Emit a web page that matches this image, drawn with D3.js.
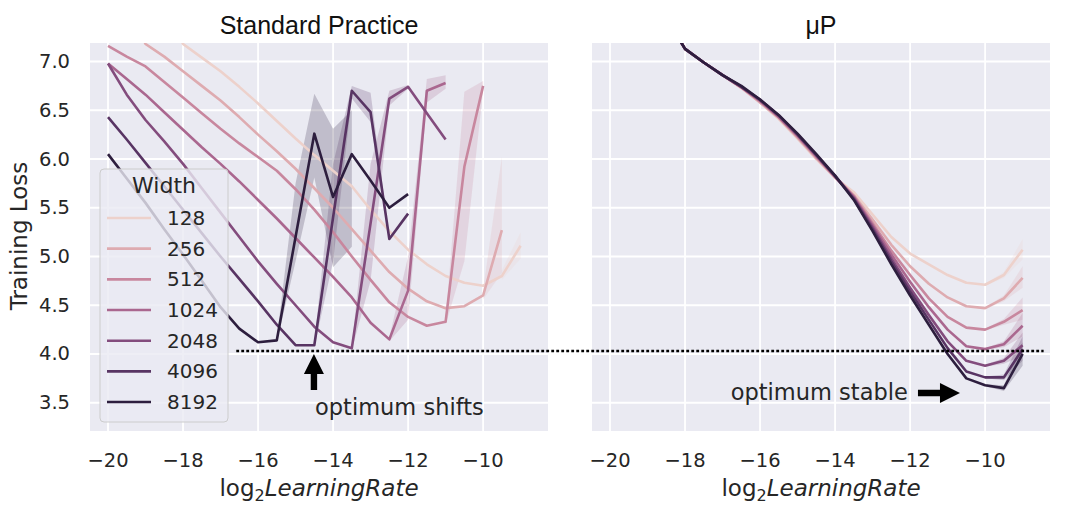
<!DOCTYPE html>
<html>
<head>
<meta charset="utf-8">
<script src="https://cdn.jsdelivr.net/npm/d3@7"></script>
<style>
  body { margin: 0; background: #fff; }
  text { font-family: "DejaVu Sans", sans-serif; fill: #262626; }
  text.title { font-family: "Liberation Sans", Arial, sans-serif; fill: #111; }
</style>
</head>
<body>
<div id="chart"></div>
<script>
// ---- data ----
const widths = [128, 256, 512, 1024, 2048, 4096, 8192];
const lr = [-20, -19.5, -19, -18.5, -18, -17.5, -17, -16.5, -16, -15.5, -15, -14.5,
            -14, -13.5, -13, -12.5, -12, -11.5, -11, -10.5, -10, -9.5, -9];

// Standard Practice (null = no run at that lr)
const sp128  = [null, null, null, 7.6, 7.18, 7.04, 6.9, 6.74, 6.57, 6.39, 6.21, 6.04, 5.88, 5.72, 5.48, 5.26, 5.07, 4.92, 4.80, 4.73, 4.70, 4.80, 5.11];
const sp256  = [null, 7.6, 7.18, 7.05, 6.90, 6.75, 6.60, 6.43, 6.25, 6.08, 5.90, 5.70, 5.50, 5.28, 5.06, 4.84, 4.67, 4.54, 4.47, 4.49, 4.60, 5.27, null];
const sp512  = [7.16, 7.05, 6.95, 6.79, 6.63, 6.47, 6.31, 6.16, 6.02, 5.88, 5.69, 5.48, 5.25, 5.00, 4.76, 4.53, 4.38, 4.29, 4.33, 5.92, 6.75, null, null];
const sp1024 = [6.98, 6.82, 6.66, 6.48, 6.30, 6.12, 5.95, 5.77, 5.58, 5.39, 5.19, 4.99, 4.79, 4.58, 4.32, 4.15, 4.65, 6.70, 6.78, null, null, null, null];
const sp2048 = [6.98, 6.66, 6.40, 6.18, 5.95, 5.70, 5.45, 5.20, 4.95, 4.72, 4.50, 4.28, 4.12, 4.06, 5.34, 6.62, 6.74, 6.47, 6.20, null, null, null, null];
const sp4096 = [6.43, 6.20, 5.96, 5.72, 5.48, 5.24, 5.00, 4.77, 4.54, 4.30, 4.09, 4.09, 5.40, 6.70, 6.48, 5.18, 5.44, null, null, null, null, null, null];
const sp8192 = [6.05, 5.80, 5.55, 5.28, 5.02, 4.75, 4.48, 4.26, 4.12, 4.14, 5.20, 6.26, 5.61, 6.05, 5.78, 5.50, 5.64, null, null, null, null, null, null];

// muP
const mp128  = [null, null, null, 7.45, 7.13, 6.99, 6.86, 6.73, 6.58, 6.41, 6.21, 6.00, 5.81, 5.66, 5.43, 5.20, 5.03, 4.92, 4.81, 4.73, 4.71, 4.81, 5.07];
const mp256  = [null, null, null, 7.45, 7.13, 6.99, 6.86, 6.73, 6.58, 6.42, 6.22, 6.01, 5.81, 5.63, 5.38, 5.12, 4.90, 4.72, 4.58, 4.49, 4.47, 4.57, 4.78];
const mp512  = [null, null, null, 7.45, 7.13, 6.99, 6.86, 6.74, 6.59, 6.43, 6.23, 6.02, 5.82, 5.62, 5.34, 5.06, 4.81, 4.57, 4.38, 4.27, 4.25, 4.33, 4.45];
const mp1024 = [null, null, null, 7.45, 7.13, 6.99, 6.86, 6.74, 6.60, 6.43, 6.24, 6.03, 5.82, 5.61, 5.32, 5.02, 4.74, 4.48, 4.25, 4.08, 4.05, 4.10, 4.29];
const mp2048 = [null, null, null, 7.45, 7.13, 6.99, 6.86, 6.74, 6.60, 6.44, 6.25, 6.04, 5.82, 5.60, 5.30, 4.98, 4.68, 4.40, 4.13, 3.93, 3.88, 3.93, 4.09];
const mp4096 = [null, null, null, 7.45, 7.13, 6.99, 6.86, 6.74, 6.61, 6.45, 6.25, 6.04, 5.83, 5.59, 5.28, 4.95, 4.64, 4.35, 4.06, 3.82, 3.76, 3.76, 4.05];
const mp8192 = [null, null, null, 7.45, 7.13, 6.99, 6.86, 6.75, 6.61, 6.45, 6.26, 6.05, 5.83, 5.58, 5.26, 4.92, 4.60, 4.30, 4.00, 3.75, 3.68, 3.65, 4.00];

// confidence bands: [lr, low, high]
const spBands = [
  [[-9.5, 4.76, 4.86], [-9, 4.98, 5.25]],
  [[-10, 4.56, 4.66], [-9.5, 4.83, 6.02]],
  [[-11, 4.30, 4.36], [-10.5, 4.95, 6.69], [-10, 6.70, 6.80]],
  [[-12.5, 4.13, 4.17], [-12, 4.35, 5.0], [-11.5, 6.58, 6.82], [-11, 6.72, 6.86]],
  [[-13.5, 4.04, 4.08], [-13, 4.75, 5.95], [-12.5, 6.55, 6.70], [-12, 6.72, 6.76]],
  [[-14.5, 4.07, 4.11], [-14, 4.95, 5.95], [-13.5, 6.62, 6.75], [-13, 6.38, 6.68], [-12.5, 5.16, 5.20]],
  [[-15.5, 4.12, 4.16], [-15, 4.95, 5.75], [-14.5, 5.81, 6.67], [-14, 4.89, 6.31], [-13.5, 5.10, 6.50], [-13.5, 6.04, 6.06], [-13, 5.77, 5.79]]
];
const mpBands = [
  [[-10, 4.70, 4.72], [-9.5, 4.78, 4.84], [-9, 4.97, 5.18]],
  [[-10, 4.46, 4.48], [-9.5, 4.54, 4.60], [-9, 4.68, 4.90]],
  [[-10, 4.24, 4.26], [-9.5, 4.30, 4.36], [-9, 4.35, 4.58]],
  [[-10, 4.04, 4.06], [-9.5, 4.07, 4.13], [-9, 4.18, 4.42]],
  [[-10, 3.87, 3.89], [-9.5, 3.90, 3.96], [-9, 3.98, 4.22]],
  [[-10, 3.75, 3.77], [-9.5, 3.73, 3.79], [-9, 3.93, 4.18]],
  [[-10, 3.67, 3.69], [-9.5, 3.62, 3.68], [-9, 3.88, 4.12]]
];

const xTicks = [-20, -18, -16, -14, -12, -10];
const yTicks = [3.5, 4.0, 4.5, 5.0, 5.5, 6.0, 6.5, 7.0];
const optimumLoss = 4.03;

// ---- layout ----
const W = 1080, H = 516;
const plotTop = 43, plotBottom = 431;
const panels = [
  {title: "Standard Practice", left: 90, right: 548, series: [sp128, sp256, sp512, sp1024, sp2048, sp4096, sp8192], bands: spBands},
  {title: "\u03bcP", left: 592, right: 1050, series: [mp128, mp256, mp512, mp1024, mp2048, mp4096, mp8192], bands: mpBands}
];

// seaborn cubehelix_palette(7) colours
function cubehelix(x) {
  const start = 0, rot = 0.4, hue = 0.8;
  const a = hue * x * (1 - x) / 2;
  const phi = 2 * Math.PI * (start / 3 + rot * x);
  const c = Math.cos(phi), s = Math.sin(phi);
  const clamp = v => Math.max(0, Math.min(1, v)) * 255;
  return d3.rgb(clamp(x + a * (-0.14861 * c + 1.78277 * s)),
                clamp(x + a * (-0.29227 * c - 0.90649 * s)),
                clamp(x + a * (1.97294 * c))).formatHex();
}
const colors = widths.map((w, i) => cubehelix(0.85 - i * 0.7 / 6));

const svg = d3.select("#chart").append("svg")
  .attr("width", W).attr("height", H);

const y = d3.scaleLinear().domain([3.21, 7.19]).range([plotBottom, plotTop]);
const fmtX = d3.format("d");

panels.forEach((p, pi) => {
  const x = d3.scaleLinear().domain([-20.48, -8.27]).range([p.left, p.right]);
  p.x = x;
  const g = svg.append("g");

  g.append("clipPath").attr("id", "clip" + pi)
    .append("rect").attr("x", p.left).attr("y", plotTop)
    .attr("width", p.right - p.left).attr("height", plotBottom - plotTop);

  g.append("rect").attr("x", p.left).attr("y", plotTop)
    .attr("width", p.right - p.left).attr("height", plotBottom - plotTop)
    .attr("fill", "#EAEAF2");

  // grid
  g.selectAll(".gx").data(xTicks).join("line")
    .attr("x1", d => x(d)).attr("x2", d => x(d))
    .attr("y1", plotTop).attr("y2", plotBottom)
    .attr("stroke", "#fff").attr("stroke-width", 1.8);
  g.selectAll(".gy").data(yTicks).join("line")
    .attr("y1", d => y(d)).attr("y2", d => y(d))
    .attr("x1", p.left).attr("x2", p.right)
    .attr("stroke", "#fff").attr("stroke-width", 1.8);

  // tick labels
  g.selectAll(".tx").data(xTicks).join("text")
    .attr("x", d => x(d)).attr("y", 467)
    .attr("text-anchor", "middle").attr("font-size", 19.5)
    .text(d => fmtX(d));
  if (pi === 0) {
    g.selectAll(".ty").data(yTicks).join("text")
      .attr("x", 70).attr("y", d => y(d))
      .attr("text-anchor", "end").attr("dominant-baseline", "central")
      .attr("font-size", 19.5)
      .text(d => d.toFixed(1));
    g.append("text")
      .attr("transform", `translate(27,${(plotTop + plotBottom) / 2 - 1}) rotate(-90)`)
      .attr("text-anchor", "middle").attr("font-size", 23)
      .text("Training Loss");
  }

  // axis label log2 LearningRate
  const xl = g.append("text")
    .attr("x", (p.left + p.right) / 2).attr("y", 496)
    .attr("text-anchor", "middle").attr("font-size", 23);
  xl.append("tspan").text("log");
  xl.append("tspan").attr("font-size", 16).attr("dy", 5).text("2");
  xl.append("tspan").attr("font-style", "italic").attr("dy", -5).text("LearningRate");

  g.append("text").attr("class", "title")
    .attr("x", (p.left + p.right) / 2).attr("y", 34)
    .attr("text-anchor", "middle").attr("font-size", 25)
    .text(p.title);

  const plot = g.append("g").attr("clip-path", `url(#clip${pi})`);

  const area = d3.area()
    .x(d => x(d[0])).y0(d => y(d[1])).y1(d => y(d[2]));
  plot.selectAll(".band").data(p.bands).join("path")
    .attr("d", area)
    .attr("fill", (d, i) => colors[i])
    .attr("fill-opacity", 0.22)
    .attr("stroke", "none");

  const line = d3.line()
    .defined(d => d[1] != null)
    .x(d => x(d[0])).y(d => y(d[1]));
  plot.selectAll(".ln").data(p.series).join("path")
    .attr("d", s => line(lr.map((v, j) => [v, s[j]])))
    .attr("fill", "none")
    .attr("stroke", (d, i) => colors[i])
    .attr("stroke-width", 2.6)
    .attr("stroke-linejoin", "round");
});

// legend
const lg = svg.append("g");
lg.append("rect").attr("x", 100).attr("y", 169).attr("width", 128).attr("height", 253)
  .attr("rx", 4).attr("fill", "#EAEAF2").attr("fill-opacity", 0.8)
  .attr("stroke", "#cccccc").attr("stroke-width", 1);
lg.append("text").attr("x", 164).attr("y", 193)
  .attr("text-anchor", "middle").attr("font-size", 22).text("Width");
widths.forEach((w, i) => {
  const yy = 218 + i * 30.67;
  lg.append("line").attr("x1", 107).attr("x2", 151).attr("y1", yy).attr("y2", yy)
    .attr("stroke", colors[i]).attr("stroke-width", 2.6);
  lg.append("text").attr("x", 167).attr("y", yy)
    .attr("dominant-baseline", "central").attr("font-size", 20).text(w);
});

// dotted optimum line across both panels
const xl0 = panels[0].x, xr0 = panels[1].x;
svg.append("line")
  .attr("x1", xl0(-16.58)).attr("x2", xr0(-8.44))
  .attr("y1", y(optimumLoss)).attr("y2", y(optimumLoss))
  .attr("stroke", "#000").attr("stroke-width", 2.6)
  .attr("stroke-dasharray", "2.8,2.2");

// arrows
function arrow(x0, y0, x1, y1) {
  const dx = x1 - x0, dy = y1 - y0, len = Math.hypot(dx, dy);
  const ux = dx / len, uy = dy / len, nx = -uy, ny = ux;
  const sw = 3.2, hw = 10, hl = 20;
  const bx = x1 - ux * hl, by = y1 - uy * hl;
  const pts = [
    [x0 + nx * sw, y0 + ny * sw], [bx + nx * sw, by + ny * sw], [bx + nx * hw, by + ny * hw],
    [x1, y1],
    [bx - nx * hw, by - ny * hw], [bx - nx * sw, by - ny * sw], [x0 - nx * sw, y0 - ny * sw]
  ];
  svg.append("path").attr("d", d3.line()(pts) + "Z").attr("fill", "#000");
}
arrow(xl0(-14.51), y(3.63), xl0(-14.51), y(4.0));
arrow(xr0(-11.79), y(3.60), xr0(-10.67), y(3.60));

svg.append("text").attr("x", xl0(-14.48)).attr("y", y(3.374))
  .attr("font-size", 22.5).text("optimum shifts");
svg.append("text").attr("x", xr0(-12.06)).attr("y", y(3.528))
  .attr("text-anchor", "end").attr("font-size", 22.5).text("optimum stable");
</script>
</body>
</html>
